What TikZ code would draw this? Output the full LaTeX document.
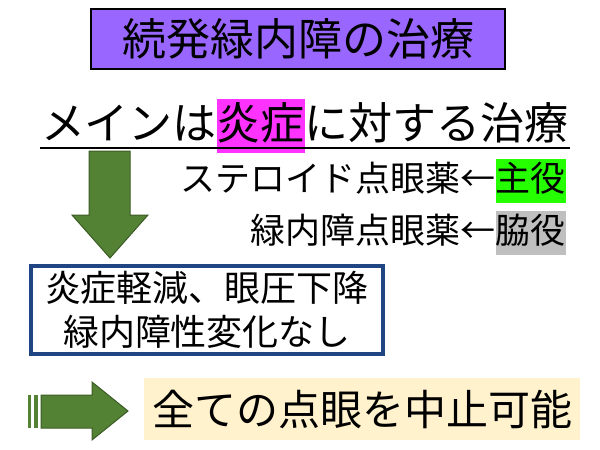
\documentclass[tikz,border=0pt]{standalone}
\usepackage{fontspec}
\setmainfont{Noto Sans CJK JP}
\begin{document}
\begin{tikzpicture}[x=1pt,y=-1pt,
  txt/.style={inner sep=0pt,font=#1}]
\definecolor{arrg}{HTML}{548235}
\definecolor{purp}{HTML}{9966FF}
\definecolor{mag}{HTML}{FF33FF}
\useasboundingbox (0,0) rectangle (600,450);
\node[draw=black,line width=1.2pt,fill=purp,minimum width=414pt,minimum height=60pt,inner sep=0pt,font=\fontsize{44}{48}\selectfont] (title) at (298,39) {続発緑内障の治療};
\node[txt=\fontsize{44}{48}\selectfont] (main) at (305,126) {メインは\colorbox{mag}{\rule[-0.25em]{0pt}{1.1em}\hspace{-3pt}炎症\hspace{-3pt}}に対する治療};
\draw[line width=1.5pt] (40,148) -- (570,148);
\draw[fill=arrg,draw=arrg!70!black,line width=1pt] (89,151) -- (130,151) -- (130,215) -- (148,215) -- (110,258) -- (72,215) -- (89,215) -- cycle;
\node[txt=\fontsize{35}{38}\selectfont,anchor=east] (s1) at (566,181) {ステロイド点眼薬←\colorbox{green!80!lime}{\rule[-0.25em]{0pt}{1.1em}\hspace{-3pt}主役\hspace{-3pt}}};
\node[txt=\fontsize{35}{38}\selectfont,anchor=east] (s2) at (566,233) {緑内障点眼薬←\colorbox{black!25}{\rule[-0.25em]{0pt}{1.1em}\hspace{-3pt}脇役\hspace{-3pt}}};
\node[draw={rgb,255:red,31;green,70;blue,130},line width=3.5pt,minimum width=352pt,minimum height=88pt,inner sep=0pt,align=center,font=\fontsize{36}{44}\selectfont] (box) at (207,310) {炎症軽減、眼圧下降\\緑内障性変化なし};
\fill[arrg] (28,395) rectangle (31,428);
\fill[arrg] (34,395) rectangle (38,428);
\draw[fill=arrg,draw=arrg!70!black,line width=1pt] (41,395) -- (92,395) -- (92,382) -- (128,411) -- (92,440) -- (92,428) -- (41,428) -- cycle;
\node[fill={rgb,255:red,255;green,242;blue,204},minimum width=436pt,minimum height=62pt,inner sep=0pt,font=\fontsize{42}{45}\selectfont] (fin) at (362,409) {全ての点眼を中止可能};
\end{tikzpicture}
\end{document}
